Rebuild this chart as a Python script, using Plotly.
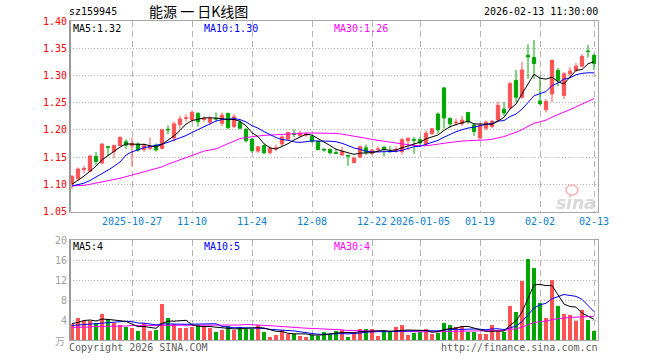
import numpy as np
import pandas as pd
import plotly.graph_objects as go

# ---------------- data ----------------
holidays = ["2026-01-01", "2026-01-02"]
dates = [d.strftime("%Y-%m-%d") for d in pd.bdate_range("2025-10-13", "2026-02-13")
         if d.strftime("%Y-%m-%d") not in holidays]

open_ = [1.101, 1.110, 1.127, 1.124, 1.151, 1.139, 1.169, 1.160, 1.171, 1.178,
         1.171, 1.174, 1.164, 1.166, 1.172, 1.166, 1.201, 1.185, 1.210, 1.221,
         1.218, 1.230, 1.219, 1.214, 1.221, 1.212, 1.230, 1.206, 1.214, 1.201,
         1.183, 1.161, 1.171, 1.158, 1.166, 1.174, 1.183, 1.193, 1.189, 1.190,
         1.188, 1.179, 1.164, 1.164, 1.158, 1.154, 1.153, 1.140, 1.150, 1.167,
         1.157, 1.164, 1.168, 1.161, 1.161, 1.160, 1.180, 1.182, 1.182, 1.174,
         1.193, 1.229, 1.277, 1.221, 1.213, 1.211, 1.232, 1.209, 1.185, 1.203,
         1.206, 1.218, 1.238, 1.240, 1.291, 1.260, 1.337, 1.333, 1.253, 1.237,
         1.266, 1.309, 1.263, 1.303, 1.309, 1.317, 1.345, 1.337]
high = [1.116, 1.131, 1.134, 1.154, 1.159, 1.175, 1.170, 1.173, 1.188, 1.183,
        1.186, 1.177, 1.175, 1.186, 1.175, 1.202, 1.208, 1.215, 1.226, 1.228,
        1.236, 1.233, 1.225, 1.225, 1.232, 1.232, 1.232, 1.229, 1.218, 1.203,
        1.185, 1.170, 1.173, 1.170, 1.173, 1.190, 1.197, 1.201, 1.199, 1.195,
        1.190, 1.180, 1.167, 1.166, 1.166, 1.169, 1.154, 1.151, 1.171, 1.173,
        1.165, 1.170, 1.170, 1.170, 1.170, 1.185, 1.187, 1.187, 1.187, 1.199,
        1.203, 1.232, 1.279, 1.223, 1.221, 1.226, 1.233, 1.212, 1.212, 1.217,
        1.218, 1.252, 1.251, 1.288, 1.310, 1.325, 1.357, 1.365, 1.298, 1.257,
        1.328, 1.314, 1.306, 1.315, 1.323, 1.339, 1.356, 1.339]
low = [1.091, 1.106, 1.121, 1.122, 1.135, 1.137, 1.152, 1.148, 1.170, 1.165,
       1.133, 1.160, 1.159, 1.163, 1.160, 1.164, 1.192, 1.178, 1.200, 1.215,
       1.215, 1.206, 1.215, 1.209, 1.215, 1.207, 1.201, 1.203, 1.201, 1.177,
       1.158, 1.158, 1.155, 1.155, 1.161, 1.170, 1.180, 1.187, 1.187, 1.187,
       1.176, 1.162, 1.160, 1.155, 1.156, 1.152, 1.134, 1.138, 1.148, 1.154,
       1.154, 1.159, 1.151, 1.158, 1.158, 1.154, 1.163, 1.156, 1.173, 1.171,
       1.191, 1.193, 1.202, 1.203, 1.207, 1.207, 1.211, 1.189, 1.182, 1.200,
       1.203, 1.216, 1.226, 1.238, 1.251, 1.257, 1.294, 1.294, 1.246, 1.232,
       1.251, 1.280, 1.257, 1.297, 1.306, 1.315, 1.333, 1.310]
close = [1.115, 1.128, 1.129, 1.152, 1.142, 1.174, 1.168, 1.171, 1.186, 1.172,
         1.175, 1.163, 1.171, 1.170, 1.163, 1.200, 1.200, 1.211, 1.220, 1.222,
         1.232, 1.215, 1.221, 1.221, 1.220, 1.227, 1.204, 1.224, 1.203, 1.180,
         1.162, 1.169, 1.158, 1.166, 1.167, 1.187, 1.195, 1.192, 1.194, 1.192,
         1.179, 1.164, 1.163, 1.158, 1.157, 1.160, 1.152, 1.148, 1.169, 1.159,
         1.163, 1.165, 1.164, 1.160, 1.164, 1.182, 1.184, 1.181, 1.176, 1.194,
         1.202, 1.200, 1.222, 1.211, 1.214, 1.218, 1.215, 1.197, 1.209, 1.214,
         1.216, 1.245, 1.231, 1.285, 1.260, 1.310, 1.334, 1.322, 1.248, 1.252,
         1.328, 1.291, 1.303, 1.308, 1.317, 1.335, 1.344, 1.322]
volume = [3.3, 4.5, 3.8, 3.9, 3.5, 5.2, 4.2, 3.4, 3.0, 2.7,
          2.5, 1.8, 3.5, 1.8, 2.1, 7.2, 4.4, 3.3, 2.4, 2.4,
          2.7, 3.0, 2.9, 2.5, 1.7, 2.0, 2.8, 2.1, 2.7, 2.3,
          2.3, 3.0, 1.7, 0.7, 1.0, 2.1, 1.2, 1.2, 0.9, 0.7,
          1.1, 0.9, 1.7, 1.3, 1.8, 2.0, 0.7, 1.5, 2.3, 2.3,
          2.2, 0.9, 1.7, 1.7, 2.6, 3.0, 1.0, 1.5, 1.7, 2.3,
          1.3, 1.5, 3.4, 3.0, 2.7, 2.8, 1.7, 1.7, 1.2, 1.2,
          3.0, 1.8, 1.7, 6.9, 5.7, 11.9, 16.2, 14.4, 7.4, 4.5,
          12.0, 6.8, 5.2, 5.0, 3.9, 6.0, 4.0, 1.8]

# moving-average values before the window fills
ma5_head = [1.100, 1.107, 1.115, 1.124]
ma10_head = [1.097, 1.099, 1.102, 1.107, 1.113, 1.119, 1.126, 1.133, 1.141]
ma30_head = [1.097, 1.097, 1.098, 1.100, 1.102, 1.104, 1.106, 1.108, 1.111, 1.114,
             1.117, 1.120, 1.123, 1.126, 1.129, 1.132, 1.137, 1.141, 1.145, 1.148,
             1.152, 1.156, 1.161, 1.163, 1.165, 1.170, 1.175, 1.180, 1.184]
vma5_head = [3.3, 3.5, 3.9, 4.0]
vma10_head = [2.9, 3.0, 3.1, 3.2, 3.3, 3.5, 3.6, 3.7, 3.8]
vma30_head = [2.5, 2.5, 2.6, 2.6, 2.7, 2.7, 2.7, 2.8, 2.8, 2.8,
              2.9, 2.9, 2.9, 2.9, 2.9, 3.0, 3.0, 3.0, 3.0, 3.0,
              3.0, 3.0, 3.0, 3.0, 3.0, 3.0, 3.0, 3.0, 3.0]

tick_dates = ["2025-10-27", "2025-11-10", "2025-11-24", "2025-12-08", "2025-12-22",
              "2026-01-05", "2026-01-19", "2026-02-02", "2026-02-13"]
tick_text = ["2025-10-27", "11-10", "11-24", "12-08", "12-22",
             "2026-01-05", "01-19", "02-02", "02-13"]
price_ticks = [1.05, 1.10, 1.15, 1.20, 1.25, 1.30, 1.35, 1.40]
vol_ticks = [4, 8, 12, 16, 20]

code = "sz159945"
title = "能源 一 日K线图"
stamp = "2026-02-13 11:30:00"
ma_labels = ["MA5:1.32", "MA10:1.30", "MA30:1.26"]
vma_labels = ["MA5:4", "MA10:5", "MA30:4"]


def moving_average(values, window, head):
    s = pd.Series(values, dtype=float).rolling(window).mean().to_numpy()
    s[:window - 1] = head
    return s


ma5 = moving_average(close, 5, ma5_head)
ma10 = moving_average(close, 10, ma10_head)
ma30 = moving_average(close, 30, ma30_head)
vma5 = moving_average(volume, 5, vma5_head)
vma10 = moving_average(volume, 10, vma10_head)
vma30 = moving_average(volume, 30, vma30_head)

# ---------------- style ----------------
RED = "#ff5353"
GREEN = "#00a600"
MONO = "DejaVu Sans Mono"
W, H = 660, 360
L, R, T, B = 70, 62, 21, 20


def px(x):
    return (x - L) / (W - L - R)


def py(y):
    return (H - B - y) / (H - T - B)


bar_colors = [RED if c >= o else GREEN for o, c in zip(open_, close)]

fig = go.Figure()
fig.add_trace(go.Candlestick(
    x=dates, open=open_, high=high, low=low, close=close,
    increasing=dict(line=dict(color=RED, width=1), fillcolor=RED),
    decreasing=dict(line=dict(color=GREEN, width=1), fillcolor=GREEN),
    whiskerwidth=0, xaxis="x", yaxis="y", showlegend=False, hoverinfo="skip"))
for vals, col in [(ma30, "#ff00ff"), (ma10, "#0000ff"), (ma5, "#000000")]:
    fig.add_trace(go.Scatter(x=dates, y=vals, mode="lines", line=dict(color=col, width=1),
                             xaxis="x", yaxis="y", showlegend=False, hoverinfo="skip"))

fig.add_trace(go.Bar(x=dates, y=volume, marker=dict(color=bar_colors, line=dict(width=0)),
                     width=0.78, xaxis="x2", yaxis="y2", showlegend=False, hoverinfo="skip"))
for vals, col in [(vma30, "#ff00ff"), (vma10, "#0000ff"), (vma5, "#000000")]:
    fig.add_trace(go.Scatter(x=dates, y=vals, mode="lines", line=dict(color=col, width=1),
                             xaxis="x2", yaxis="y2", showlegend=False, hoverinfo="skip"))

xrange = [-1 / 3, len(dates) - 1 + 2 / 3]
common_x = dict(type="category", categoryorder="array", categoryarray=dates,
                range=xrange, tickvals=tick_dates, showgrid=True, gridcolor="#b4b4b4",
                griddash="6px,4px", gridwidth=1, showline=True, mirror=True,
                linecolor="#a8a8a8", linewidth=1, ticks="", zeroline=False, fixedrange=True)

main_dom = [py(211.5), 1]
vol_dom = [0, py(240)]

fig.update_layout(
    width=W, height=H, margin=dict(l=L, r=R, t=T, b=B),
    paper_bgcolor="white", plot_bgcolor="white", boxgap=0.22, bargap=0,
    showlegend=False,
    xaxis=dict(common_x, domain=[0, 1], anchor="y", ticktext=tick_text,
               tickfont=dict(family=MONO, size=10, color="#0a80d2"),
               rangeslider=dict(visible=False)),
    yaxis=dict(domain=main_dom, range=[1.05, 1.40], tickvals=price_ticks,
               tickformat=".2f", tickfont=dict(family=MONO, size=10, color="#ff0000"),
               showgrid=True, gridcolor="#b4b4b4", griddash="1px,2px", showline=True,
               mirror=True, linecolor="#a8a8a8", linewidth=1, ticks="", zeroline=False,
               fixedrange=True),
    xaxis2=dict(common_x, domain=[0, 1], anchor="y2", showticklabels=False),
    yaxis2=dict(domain=vol_dom, range=[0, 20], tickvals=vol_ticks,
                tickfont=dict(family=MONO, size=10, color="#a0a0a0"),
                showgrid=True, gridcolor="#b4b4b4", griddash="1px,2px", showline=True,
                mirror=True, linecolor="#a8a8a8", linewidth=1, ticks="", zeroline=False,
                fixedrange=True),
)

# thicker left frame edge, and the faint sina watermark eye
shapes = []
for dom in (main_dom, vol_dom):
    shapes.append(dict(type="line", xref="paper", yref="paper", x0=0, x1=0,
                       y0=dom[0], y1=dom[1], line=dict(color="#999999", width=2)))
shapes.append(dict(type="circle", xref="paper", yref="paper",
                   x0=px(566), x1=px(578), y0=py(195), y1=py(185),
                   line=dict(color="#f4c0c0", width=2)))
fig.update_layout(shapes=shapes)

ann = []


def add_text(text, x, y, color="#000", size=10, xanchor="left", family=MONO, **kw):
    ann.append(dict(text=text, x=px(x), y=py(y), xref="paper", yref="paper",
                    xanchor=xanchor, yanchor="middle", showarrow=False, borderpad=0,
                    font=dict(family=family, size=size, color=color, **kw)))


add_text(code, 68, 12)
add_text(title, 148, 11, size=14, family="Noto Sans CJK SC")
add_text(stamp, 599, 12, xanchor="right")
for lab, xx, col in zip(ma_labels, [72, 203, 333], ["#000000", "#0000ff", "#ff00ff"]):
    add_text(lab, xx, 28, color=col)
for lab, xx, col in zip(vma_labels, [72, 203, 333], ["#000000", "#0000ff", "#ff00ff"]):
    add_text(lab, xx, 247, color=col)
add_text("万", 66, 340, color="#a0a0a0", size=10, xanchor="right", family="Noto Sans CJK SC")
add_text("Copyright 2026 SINA.COM", 68, 348, color="#606060")
add_text("http://finance.sina.com.cn", 599, 348, color="#606060", xanchor="right")
add_text("sina", 576, 203, color="#d9d9d9", size=17, xanchor="center",
         family="DejaVu Sans", weight="bold", style="italic")
fig.update_layout(annotations=ann)

fig.write_html("out.html", config={"displayModeBar": False, "staticPlot": True},
               post_script="document.body.style.margin='0';")
